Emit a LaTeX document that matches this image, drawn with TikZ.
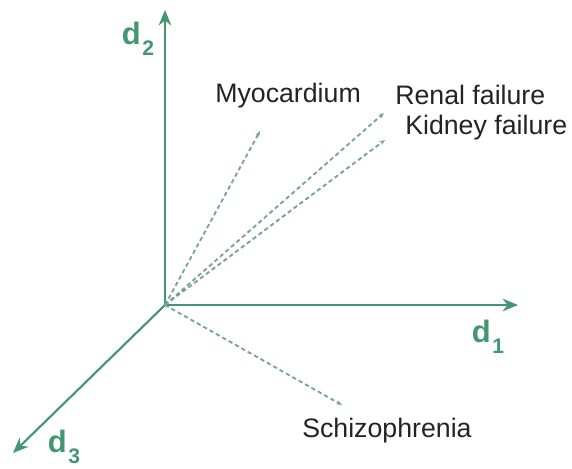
\documentclass[tikz,border=0pt]{standalone}
\usepackage{fontspec}
\setmainfont{Liberation Sans}
\usetikzlibrary{arrows.meta, positioning}
\definecolor{axiscolor}{RGB}{66,150,112}
\definecolor{veccolor}{RGB}{120,162,146}
\definecolor{termcolor}{RGB}{35,35,35}
\newcommand{\dimlabel}[1]{\textbf{d}\kern1pt\raisebox{-0.7ex}{\fontsize{15}{15}\selectfont\textbf{#1}}}
\tikzset{
  axis/.style    = {-{Stealth[length=11pt, width=9pt]}, line width=1.5pt, color=axiscolor},
  vec/.style     = {-{Stealth[length=4pt, width=3pt]}, dashed, dash pattern=on 3pt off 2.2pt,
                    line width=1.3pt, color=veccolor},
  term/.style    = {anchor=base west, inner sep=0pt, text=termcolor,
                    font=\fontsize{19}{22}\selectfont},
  dimname/.style = {inner sep=0pt, text=axiscolor, font=\fontsize{22}{26}\selectfont},
}

\begin{document}
\begin{tikzpicture}[x=0.025cm, y=0.025cm]
  \useasboundingbox (-165,-163) rectangle (407,305);

  % axes
  \coordinate (o)  at (0,0);
  \coordinate (e1) at (353,0);
  \coordinate (e2) at (0,295);
  \coordinate (e3) at (-152,-148);
  \draw[axis] (o) -- (e1);
  \draw[axis] (o) -- (e2);
  \draw[axis] (o) -- (e3);
  \node[dimname] (d1) at (323,-32)  {\dimlabel{1}};
  \node[dimname] (d2) at (-27,266)  {\dimlabel{2}};
  \node[dimname] (d3) at (-101,-142) {\dimlabel{3}};

  % term vectors
  \coordinate (myoend)    at (95,174);
  \coordinate (renalend)  at (219,192);
  \coordinate (kidneyend) at (220,165);
  \coordinate (schizend)  at (177,-100);
  \draw[vec] (o) -- (myoend);
  \draw[vec] (o) -- (renalend);
  \draw[vec] (o) -- (kidneyend);
  \draw[vec] (o) -- (schizend);

  \node[term] (myo)    at (50,202)   {Myocardium};
  \node[term] (renal)  at (230,200)  {Renal failure};
  \node[term] (kidney) at (240,171)  {Kidney failure};
  \node[term] (schiz)  at (137,-132) {Schizophrenia};
\end{tikzpicture}
\end{document}
